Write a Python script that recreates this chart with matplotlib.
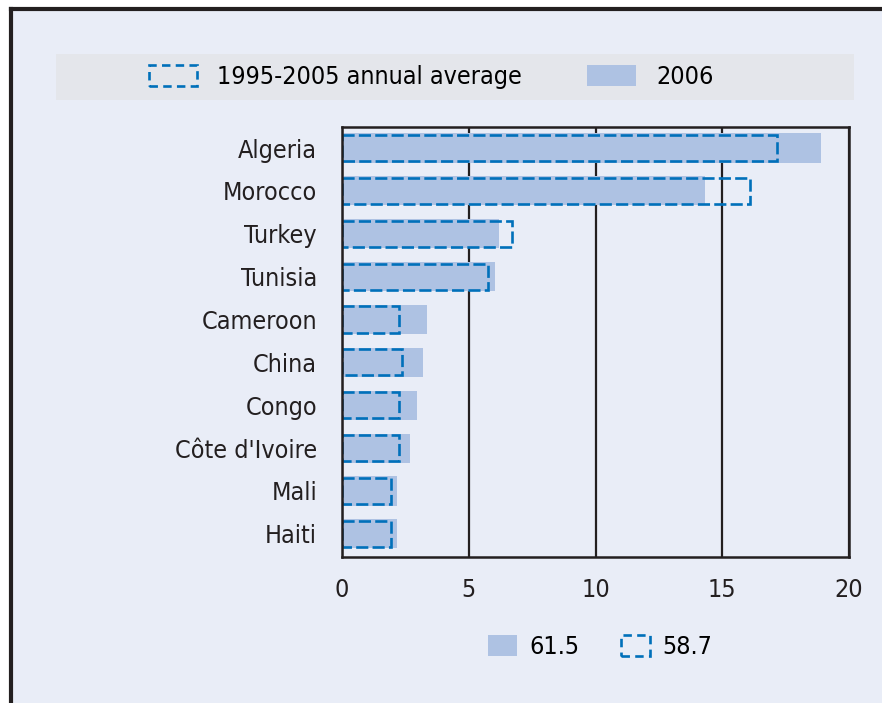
import matplotlib
matplotlib.use("Agg")
import matplotlib.pyplot as plt
from matplotlib.patches import Patch, Rectangle
from matplotlib.lines import Line2D

plt.rcParams['font.family'] = ['DejaVu Sans']
plt.rcParams['font.stretch'] = 'condensed'

# data
countries = ["Algeria", "Morocco", "Turkey", "Tunisia", "Cameroon", "China",
             "Congo", "Côte d'Ivoire", "Mali", "Haiti"]
values_2006 = [18.9, 14.3, 6.2, 6.05, 3.35, 3.2, 2.95, 2.7, 2.15, 2.15]
values_avg = [17.15, 16.1, 6.7, 5.75, 2.25, 2.35, 2.25, 2.25, 1.95, 1.95]
x_ticks = [0, 5, 10, 15, 20]
total_2006 = "61.5"
total_avg = "58.7"

bg = "#E9EDF7"
fill_col = "#AEC2E3"
blue = "#0070BA"
dark = "#231F20"
fs = 18

fig = plt.figure(figsize=(8.82, 7.03), dpi=100)
fig.patch.set_facecolor("white")

# panel background and frame
W, H = 882, 703
fig.add_artist(Rectangle((11 / W, 0), 1, 1 - 9 / H, transform=fig.transFigure,
                         facecolor=bg, edgecolor="none", zorder=0))
fig.add_artist(Line2D([11 / W, 1], [1 - 9 / H, 1 - 9 / H], transform=fig.transFigure,
                      color=dark, lw=3, zorder=1))
fig.add_artist(Line2D([11 / W, 11 / W], [0, 1 - 9 / H], transform=fig.transFigure,
                      color=dark, lw=3, zorder=1))
# legend band
fig.add_artist(Rectangle((56 / W, 1 - 100 / H), (854 - 56) / W, 46 / H,
                         transform=fig.transFigure, facecolor="#E4E6EB",
                         edgecolor="none", zorder=1))

ax = fig.add_axes([342 / W, 1 - 557 / H, (849 - 342) / W, (557 - 127) / H])
ax.set_facecolor(bg)

y = list(range(len(countries)))
ax.barh(y, values_2006, height=0.68, color=fill_col, zorder=2)
ax.barh(y, values_avg, height=0.61, fill=False, edgecolor=blue, lw=1.9,
        linestyle=(0, (4.6, 1.6)), zorder=3)

ax.set_xlim(0, 20)
ax.set_ylim(9.54, -0.49)
ax.set_xticks(x_ticks)
ax.set_yticks(y)
ax.set_yticklabels(countries)
ax.tick_params(length=0, labelsize=fs, colors=dark)
ax.tick_params(axis="y", pad=18)
ax.tick_params(axis="x", pad=15)
ax.xaxis.grid(True, color=dark, lw=1.6, zorder=1)
ax.set_axisbelow(True)
for s in ax.spines.values():
    s.set_color(dark)
    s.set_linewidth(1.8)
    s.set_zorder(4)

# top legend
h_avg = Patch(facecolor="none", edgecolor=blue, lw=1.9, linestyle=(0, (3.2, 2.0)))
h_new = Patch(facecolor=fill_col, edgecolor="none")
fig.legend([h_avg, h_new], ["1995-2005 annual average", "2006"], ncol=2,
           loc="center", bbox_to_anchor=(431 / W, 1 - 77 / H), frameon=False,
           fontsize=fs, handlelength=1.95, handleheight=0.95, handletextpad=0.8,
           columnspacing=2.6, borderpad=0)

# bottom legend with totals
fig.legend([h_new, h_avg], [total_2006, total_avg], ncol=2,
           loc="center", bbox_to_anchor=(600 / W, 1 - 647 / H), frameon=False,
           fontsize=fs, handlelength=1.16, handleheight=0.92, handletextpad=0.48,
           columnspacing=1.68, borderpad=0)

fig.savefig("out.png", dpi=100, facecolor=fig.get_facecolor())
